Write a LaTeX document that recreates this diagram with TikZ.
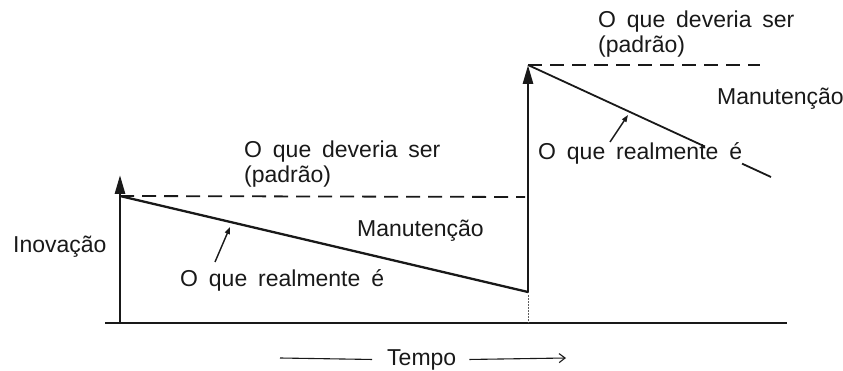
\documentclass[tikz,border=0pt]{standalone}
\usepackage{fontspec}
\setmainfont{Liberation Sans}[WordSpace=1.7]
\usepackage{tikz}
\usetikzlibrary{arrows.meta,positioning,calc}
\definecolor{ink}{RGB}{25,25,25}
\tikzset{
  lbl/.style={inner sep=0pt,anchor=base west,text=ink,font=\fontsize{23}{25}\selectfont},
  axisline/.style={draw=ink,line width=1.8pt},
  riser/.style={draw=ink,line width=2.8pt,-{Triangle[length=19pt,width=10pt]}},
  trend/.style={draw=ink,line width=2.3pt},
  ideal/.style={draw=ink,line width=1.8pt,dash pattern=on 14pt off 8pt},
  guide/.style={draw=ink!70,line width=1pt,dash pattern=on 1.5pt off 1.5pt},
  pointer/.style={draw=ink,line width=1.4pt,-{Triangle[length=7pt,width=5pt]}},
  timearrow/.style={draw=ink,line width=1.1pt},
}
\begin{document}
\begin{tikzpicture}[x=1pt,y=-1pt]
  \useasboundingbox (0,0) rectangle (843,371);
  % corner points of the curve
  \coordinate (b0) at (105,323);
  \coordinate (b1) at (787,323);
  \coordinate (o1) at (120,323);
  \coordinate (p1) at (120,175);
  \coordinate (s1) at (120,196);
  \coordinate (q1) at (525,197);
  \coordinate (e1) at (528,292);
  \coordinate (o2) at (528,323);
  \coordinate (s2) at (528,65);
  \coordinate (q2) at (760,65);
  \coordinate (e2) at (771,177);
  \coordinate (g1) at ($(s2)!0.728!(e2)$);
  \coordinate (g2) at ($(s2)!0.881!(e2)$);
  % axis, risers and slopes
  \draw[axisline] (b0) -- (b1);
  \draw[riser] (o1) -- (p1);
  \draw[ideal] (s1) -- (q1);
  \draw[trend] (s1) -- (e1);
  \draw[guide] (e1) -- (o2);
  \draw[riser] (e1) -- (s2);
  \draw[ideal] (s2) -- (q2);
  \draw[trend,line width=1.8pt] (s2) -- (g1) (g2) -- (e2);
  % labels, first cycle
  \node[lbl] (inov) at (13,253) {Inovação};
  \node[lbl] (dev1a) at (244,158) {O que deveria ser};
  \node[lbl] (dev1b) at (244,183) {(padrão)};
  \node[lbl] (man1) at (357,237) {Manutenção};
  \node[lbl] (real1) at (180,287) {O que realmente é};
  \coordinate (r1a) at (215,262);
  \coordinate (r1b) at (230,227);
  \draw[pointer] (r1a) -- (r1b);
  % labels, second cycle
  \node[lbl] (dev2a) at (598,28) {O que deveria ser};
  \node[lbl] (dev2b) at (598,53) {(padrão)};
  \node[lbl] (man2) at (717,105) {Manutenção};
  \node[lbl] (real2) at (538,160) {O que realmente é};
  \coordinate (r2a) at (610,142);
  \coordinate (r2b) at (628,115);
  \draw[pointer] (r2a) -- (r2b);
  % time axis label
  \node[lbl] (tempo) at (387,365) {Tempo};
  \coordinate (t0) at (280,358);
  \coordinate (t1) at (566,358);
  \draw[timearrow] (t0) -- ([xshift=-15pt]tempo.west);
  \draw[timearrow,-{Straight Barb[length=6pt,width=9pt]}] ([xshift=13pt]tempo.east) -- (t1);
\end{tikzpicture}
\end{document}
